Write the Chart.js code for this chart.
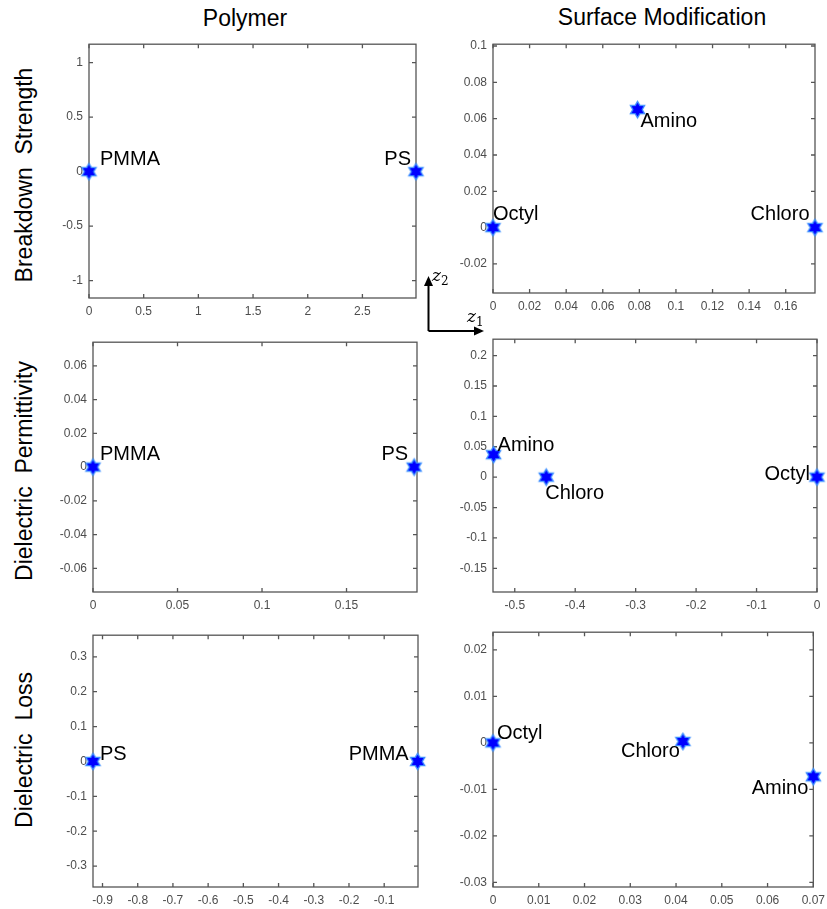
<!DOCTYPE html>
<html>
<head>
<meta charset="utf-8">
<title>Polymer / Surface Modification</title>
<script src="https://cdn.jsdelivr.net/npm/chart.js@4.4.1/dist/chart.umd.min.js"></script>
<style>
  html, body { margin: 0; padding: 0; background: #fff; overflow: hidden; }
  body { position: relative; width: 827px; height: 909px; font-family: "Liberation Sans", Arial, sans-serif; }
  canvas { position: absolute; }
  .title { position: absolute; font-size: 23px; color: #000; white-space: pre; transform: translate(-50%, -50%); }
  .rowlabel { position: absolute; font-size: 23px; color: #000; white-space: pre; transform: translate(-50%, -50%) rotate(-90deg); }
  svg { position: absolute; left: 0; top: 0; }
</style>
</head>
<body>

<div class="title" style="left:245px; top:18px;">Polymer</div>
<div class="title" style="left:662px; top:17px;">Surface Modification</div>
<div class="rowlabel" style="left:24px; top:175px;">Breakdown  Strength</div>
<div class="rowlabel" style="left:24px; top:471px;">Dielectric  Permittivity</div>
<div class="rowlabel" style="left:24px; top:750px;">Dielectric  Loss</div>

<canvas id="bsPolymer"></canvas>
<canvas id="bsSurface"></canvas>
<canvas id="dpPolymer"></canvas>
<canvas id="dpSurface"></canvas>
<canvas id="dlPolymer"></canvas>
<canvas id="dlSurface"></canvas>

<!-- z1 / z2 orientation key -->
<svg width="827" height="909">
  <line x1="428.5" y1="331" x2="428.5" y2="284" stroke="#000" stroke-width="2"/>
  <polygon points="428.5,276 424,286 433,286" fill="#000"/>
  <line x1="428.5" y1="331" x2="476" y2="331" stroke="#000" stroke-width="2"/>
  <polygon points="484,331 474,326.5 474,335.5" fill="#000"/>
  <text x="432" y="281" font-family="DejaVu Serif" font-style="italic" font-size="17">z<tspan font-size="12" font-style="normal" dy="4">2</tspan></text>
  <text x="467" y="322" font-family="DejaVu Serif" font-style="italic" font-size="17">z<tspan font-size="12" font-style="normal" dy="4">1</tspan></text>
</svg>

<script>
// ---- data (z1, z2 coordinates) ----
const bsPolymerNames = ['PMMA', 'PS'];
const bsPolymerZ1 = [0, 2.99];
const bsPolymerZ2 = [0, 0];
const bsPolymerXTicks = [0, 0.5, 1, 1.5, 2, 2.5];
const bsPolymerYTicks = [-1, -0.5, 0, 0.5, 1];
const bsPolymerXRange = [0, 2.99];
const bsPolymerYRange = [-1.16, 1.17];

const bsSurfaceNames = ['Octyl', 'Amino', 'Chloro'];
const bsSurfaceZ1 = [0, 0.079, 0.176];
const bsSurfaceZ2 = [0, 0.065, 0];
const bsSurfaceXTicks = [0, 0.02, 0.04, 0.06, 0.08, 0.1, 0.12, 0.14, 0.16];
const bsSurfaceYTicks = [-0.02, 0, 0.02, 0.04, 0.06, 0.08, 0.1];
const bsSurfaceXRange = [0, 0.176];
const bsSurfaceYRange = [-0.036, 0.101];

const dpPolymerNames = ['PMMA', 'PS'];
const dpPolymerZ1 = [0, 0.19];
const dpPolymerZ2 = [0, 0];
const dpPolymerXTicks = [0, 0.05, 0.1, 0.15];
const dpPolymerYTicks = [-0.06, -0.04, -0.02, 0, 0.02, 0.04, 0.06];
const dpPolymerXRange = [0, 0.1917];
const dpPolymerYRange = [-0.074, 0.074];

const dpSurfaceNames = ['Amino', 'Chloro', 'Octyl'];
const dpSurfaceZ1 = [-0.535, -0.448, 0];
const dpSurfaceZ2 = [0.037, 0, 0];
const dpSurfaceXTicks = [-0.5, -0.4, -0.3, -0.2, -0.1, 0];
const dpSurfaceYTicks = [-0.15, -0.1, -0.05, 0, 0.05, 0.1, 0.15, 0.2];
const dpSurfaceXRange = [-0.536, 0];
const dpSurfaceYRange = [-0.189, 0.227];

const dlPolymerNames = ['PS', 'PMMA'];
const dlPolymerZ1 = [-0.927, -0.005];
const dlPolymerZ2 = [0, 0];
const dlPolymerXTicks = [-0.9, -0.8, -0.7, -0.6, -0.5, -0.4, -0.3, -0.2, -0.1];
const dlPolymerYTicks = [-0.3, -0.2, -0.1, 0, 0.1, 0.2, 0.3];
const dlPolymerXRange = [-0.927, -0.004];
const dlPolymerYRange = [-0.36, 0.362];

const dlSurfaceNames = ['Octyl', 'Chloro', 'Amino'];
const dlSurfaceZ1 = [0, 0.0415, 0.07];
const dlSurfaceZ2 = [0, 0.0003, -0.0073];
const dlSurfaceXTicks = [0, 0.01, 0.02, 0.03, 0.04, 0.05, 0.06, 0.07];
const dlSurfaceYTicks = [-0.03, -0.02, -0.01, 0, 0.01, 0.02];
const dlSurfaceXRange = [0, 0.07];
const dlSurfaceYRange = [-0.031, 0.0238];

// ---- look ----
const AXIS_COLOR = '#555555';
const TICK_TEXT = '#4d4d4d';
const Y_AXIS_W = 50, X_AXIS_H = 26, PAD_TOP = 12, PAD_RIGHT = 14;

// hexagram marker, like MATLAB's 'h' marker
function makeHexagram(R) {
  const s = Math.ceil(R * 2 + 4);
  const c = document.createElement('canvas');
  c.width = s; c.height = s;
  const ctx = c.getContext('2d');
  const r = R / Math.sqrt(3);
  ctx.beginPath();
  for (let i = 0; i < 12; i++) {
    const a = -Math.PI / 2 + i * Math.PI / 6;
    const rad = i % 2 === 0 ? R : r;
    ctx.lineTo(s / 2 + rad * Math.cos(a), s / 2 + rad * Math.sin(a));
  }
  ctx.closePath();
  ctx.fillStyle = '#0000ff';
  ctx.fill();
  ctx.lineWidth = 1.3;
  ctx.strokeStyle = '#3b8eff';
  ctx.stroke();
  return c;
}
const STAR = makeHexagram(8.2);

// box with inward ticks on all four sides, then point labels
const matlabAxes = {
  id: 'matlabAxes',
  beforeDatasetsDraw(chart) {
    const { ctx, chartArea: a, scales: { x, y } } = chart;
    const tl = 4;
    ctx.save();
    ctx.strokeStyle = AXIS_COLOR;
    ctx.lineWidth = 1.3;
    ctx.beginPath();
    x.ticks.forEach(t => {
      const px = x.getPixelForValue(t.value);
      ctx.moveTo(px, a.bottom); ctx.lineTo(px, a.bottom - tl);
      ctx.moveTo(px, a.top); ctx.lineTo(px, a.top + tl);
    });
    y.ticks.forEach(t => {
      const py = y.getPixelForValue(t.value);
      ctx.moveTo(a.left, py); ctx.lineTo(a.left + tl, py);
      ctx.moveTo(a.right, py); ctx.lineTo(a.right - tl, py);
    });
    ctx.stroke();
    ctx.strokeRect(a.left, a.top, a.right - a.left, a.bottom - a.top);
    ctx.restore();
  },
  afterDatasetsDraw(chart, args, opts) {
    const { ctx } = chart;
    const pts = chart.getDatasetMeta(0).data;
    ctx.save();
    ctx.fillStyle = '#000';
    ctx.font = '20px "Liberation Sans", Arial, sans-serif';
    ctx.textBaseline = 'alphabetic';
    (opts.names || []).forEach((name, i) => {
      const p = opts.place[i];
      ctx.textAlign = p.align;
      ctx.fillText(name, pts[i].x + p.dx, pts[i].y + p.dy + 7);
    });
    ctx.restore();
  }
};

function makePanel(id, box, names, z1, z2, xTicks, yTicks, xRange, yRange, place) {
  const canvas = document.getElementById(id);
  canvas.width = box.right - box.left + Y_AXIS_W + PAD_RIGHT;
  canvas.height = box.bottom - box.top + PAD_TOP + X_AXIS_H;
  canvas.style.left = (box.left - Y_AXIS_W) + 'px';
  canvas.style.top = (box.top - PAD_TOP) + 'px';

  const tickFont = { family: '"Liberation Sans", Arial, sans-serif', size: 12 };

  return new Chart(canvas, {
    type: 'scatter',
    data: {
      datasets: [{
        data: z1.map((v, i) => ({ x: v, y: z2[i] })),
        pointStyle: STAR,
        pointRadius: 8,
        clip: false
      }]
    },
    options: {
      responsive: false,
      animation: false,
      events: [],
      layout: { padding: { top: PAD_TOP, right: PAD_RIGHT, left: 0, bottom: 0 } },
      plugins: {
        legend: { display: false },
        tooltip: { enabled: false },
        matlabAxes: { names: names, place: place }
      },
      scales: {
        x: {
          type: 'linear',
          min: xRange[0],
          max: xRange[1],
          grid: { display: false, drawTicks: false },
          border: { display: false },
          afterBuildTicks: s => { s.ticks = xTicks.map(v => ({ value: v })); },
          afterFit: s => { s.height = X_AXIS_H; },
          ticks: {
            autoSkip: false,
            maxRotation: 0,
            padding: 6,
            color: TICK_TEXT,
            font: tickFont,
            callback: v => String(v)
          }
        },
        y: {
          type: 'linear',
          min: yRange[0],
          max: yRange[1],
          grid: { display: false, drawTicks: false },
          border: { display: false },
          afterBuildTicks: s => { s.ticks = yTicks.map(v => ({ value: v })); },
          afterFit: s => { s.width = Y_AXIS_W; },
          ticks: {
            autoSkip: false,
            padding: 6,
            color: TICK_TEXT,
            font: tickFont,
            callback: v => String(v)
          }
        }
      }
    },
    plugins: [matlabAxes]
  });
}

makePanel('bsPolymer', { left: 89, top: 43, right: 416, bottom: 298 },
  bsPolymerNames, bsPolymerZ1, bsPolymerZ2, bsPolymerXTicks, bsPolymerYTicks, bsPolymerXRange, bsPolymerYRange,
  [{ dx: 11, dy: -13.5, align: 'left' }, { dx: -5, dy: -13.5, align: 'right' }]);

makePanel('bsSurface', { left: 493, top: 43, right: 815, bottom: 293 },
  bsSurfaceNames, bsSurfaceZ1, bsSurfaceZ2, bsSurfaceXTicks, bsSurfaceYTicks, bsSurfaceXRange, bsSurfaceYRange,
  [{ dx: 0, dy: -15, align: 'left' }, { dx: 3, dy: 10.5, align: 'left' }, { dx: -5.5, dy: -15, align: 'right' }]);

makePanel('dpPolymer', { left: 93, top: 341, right: 417, bottom: 592 },
  dpPolymerNames, dpPolymerZ1, dpPolymerZ2, dpPolymerXTicks, dpPolymerYTicks, dpPolymerXRange, dpPolymerYRange,
  [{ dx: 7, dy: -14, align: 'left' }, { dx: -6, dy: -14, align: 'right' }]);

makePanel('dpSurface', { left: 493, top: 338, right: 817, bottom: 592 },
  dpSurfaceNames, dpSurfaceZ1, dpSurfaceZ2, dpSurfaceXTicks, dpSurfaceYTicks, dpSurfaceXRange, dpSurfaceYRange,
  [{ dx: 4, dy: -10.5, align: 'left' }, { dx: -1, dy: 15, align: 'left' }, { dx: -7, dy: -4, align: 'right' }]);

makePanel('dlPolymer', { left: 93, top: 634, right: 418, bottom: 887 },
  dlPolymerNames, dlPolymerZ1, dlPolymerZ2, dlPolymerXTicks, dlPolymerYTicks, dlPolymerXRange, dlPolymerYRange,
  [{ dx: 7, dy: -8.5, align: 'left' }, { dx: -9, dy: -8.5, align: 'right' }]);

makePanel('dlSurface', { left: 493, top: 631, right: 817, bottom: 887 },
  dlSurfaceNames, dlSurfaceZ1, dlSurfaceZ2, dlSurfaceXTicks, dlSurfaceYTicks, dlSurfaceXRange, dlSurfaceYRange,
  [{ dx: 4, dy: -10.5, align: 'left' }, { dx: -3, dy: 8.5, align: 'right' }, { dx: -5, dy: 10, align: 'right' }]);
</script>
</body>
</html>
